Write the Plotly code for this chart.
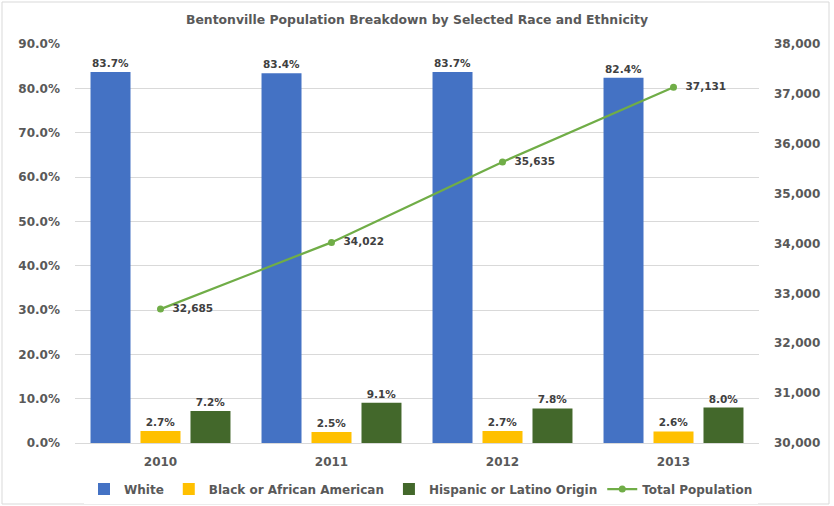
import plotly.graph_objects as go

years = ["2010", "2011", "2012", "2013"]
white = [0.837, 0.834, 0.837, 0.824]
black = [0.027, 0.025, 0.027, 0.026]
hispanic = [0.072, 0.091, 0.078, 0.080]
total_pop = [32685, 34022, 35635, 37131]

FONT = "DejaVu Sans"
LBL = dict(family=FONT, size=10.5, color="#404040")

fig = go.Figure()
def bar(name, vals, color):
    fig.add_trace(go.Bar(
        x=years, y=vals, name=f"<b>{name}</b>", marker=dict(color=color, line=dict(width=0)),
        text=[f"<b>{v*100:.1f}%</b>" for v in vals], textposition="outside",
        textfont=LBL, cliponaxis=False, hoverinfo="skip"))

bar("White", white, "#4472C4")
bar("Black or African American", black, "#FFC000")
bar("Hispanic or Latino Origin", hispanic, "#43682B")

fig.add_trace(go.Scatter(
    x=years, y=total_pop, name="<b>Total Population</b>", yaxis="y2",
    mode="lines+markers+text", line=dict(color="#70AD47", width=2.25),
    marker=dict(color="#70AD47", size=7),
    text=[f"  <b>{v:,}</b>" for v in total_pop], textposition="middle right",
    textfont=LBL, cliponaxis=False))

W, H = 834, 506
L, R, T, B = 75, 75, 44, 63
pw, ph = W - L - R, H - T - B
def px(x): return (x - L) / pw
def py(y): return (H - B - y) / ph

fig.update_layout(
    width=W, height=H,
    margin=dict(l=L, r=R, t=T, b=B, autoexpand=False),
    paper_bgcolor="white", plot_bgcolor="white",
    title=dict(text="<b>Bentonville Population Breakdown by Selected Race and Ethnicity</b>",
               x=0.5, xref="paper", y=1 - 20 / H, yanchor="middle",
               font=dict(family=FONT, size=12.4, color="#595959")),
    barmode="group", bargap=0.123, bargroupgap=0.2,
    showlegend=True,
    legend=dict(orientation="h", x=px(421), xanchor="center", xref="paper",
                yref="container", y=1 - 489 / H, yanchor="middle",
                font=dict(family=FONT, size=12, color="#595959"),
                itemwidth=30, traceorder="normal"),
    xaxis=dict(type="category", showgrid=False, showline=True, linecolor="#D9D9D9",
               linewidth=1, ticks="", ticklabelstandoff=8,
               tickfont=dict(family=FONT, size=12, color="#595959"),
               tickprefix="<b>", ticksuffix="</b>"),
    yaxis=dict(range=[0, 0.9], dtick=0.1, tickformat=".1%", showgrid=True,
               gridcolor="#D9D9D9", gridwidth=1, zeroline=False, showline=False,
               ticks="", ticklabelstandoff=14,
               tickfont=dict(family=FONT, size=12, color="#595959"),
               tickprefix="<b>", ticksuffix="</b>"),
    yaxis2=dict(range=[30000, 38000], dtick=1000, tickformat=",", overlaying="y",
                side="right", showgrid=False, zeroline=False, showline=False,
                ticks="", ticklabelstandoff=14,
                tickfont=dict(family=FONT, size=12, color="#595959"),
                tickprefix="<b>", ticksuffix="</b>"),
    shapes=[dict(type="rect", xref="paper", yref="paper",
                 x0=px(2), x1=px(829), y0=py(504), y1=py(2),
                 line=dict(color="#D9D9D9", width=1), fillcolor="rgba(0,0,0,0)",
                 layer="below")],
)

fig.write_html("out.html", config={"displayModeBar": False},
               post_script="document.body.style.margin='0';document.body.style.overflow='hidden';")
